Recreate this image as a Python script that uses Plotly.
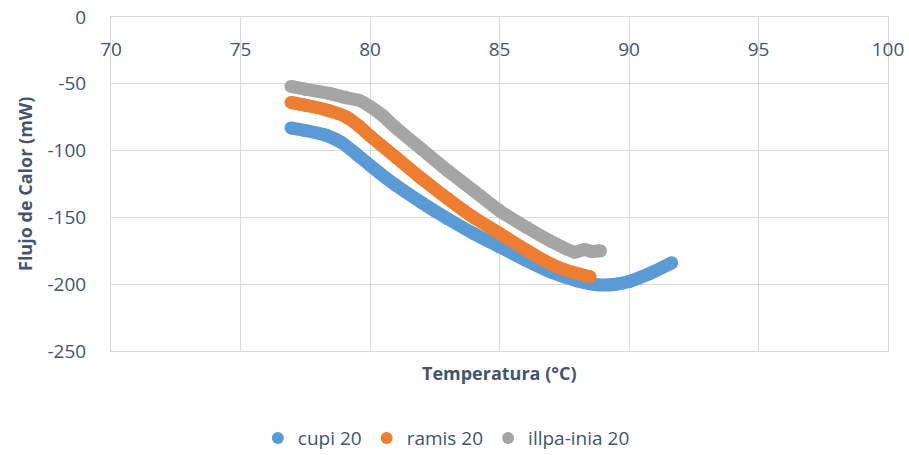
import plotly.graph_objects as go

# ---- data ----
cupi_x = [76.95, 77.5, 78.3, 78.9, 79.5, 80.0, 81.0, 82.0, 83.0, 84.0, 85.0, 86.0, 87.0, 88.0, 88.8, 89.5, 90.0, 90.8, 91.65]
cupi_y = [-83, -85, -88.5, -94, -103, -111, -126, -139, -151, -162, -172, -182, -191, -197.5, -200.5, -200, -198, -192, -184]

ramis_x = [76.95, 77.5, 78.4, 79.1, 79.6, 80.0, 81.0, 82.0, 83.0, 84.0, 85.0, 86.0, 86.7, 87.5, 88.5]
ramis_y = [-64, -66, -70, -75, -82, -89, -105, -121, -136, -150, -162, -174, -182, -189, -194.5]

illpa_x = [76.95, 77.5, 78.5, 79.1, 79.6, 80.0, 80.5, 81.0, 82.0, 83.0, 84.0, 85.0, 86.0, 87.0, 87.9, 88.3, 88.55, 88.9]
illpa_y = [-52, -54, -57.5, -60.5, -62.5, -67, -74, -83, -99, -115, -130, -145, -157, -168, -176, -174, -175.5, -175]

series_names = ["cupi 20", "ramis 20", "illpa-inia 20"]
series_colors = ["#5b9bd5", "#ed7d31", "#a5a5a5"]

x_ticks = [70, 75, 80, 85, 90, 95, 100]
x_ticktext = ["70", "75", "80", "85", "90", "95", "100"]
y_ticks = [0, -50, -100, -150, -200, -250]
y_ticktext = ["0", "-50", "-100", "-150", "-200", "-250"]

x_title = "Temperatura (°C)"
y_title = "Flujo de Calor (mW)"

FONT = "Open Sans"
TXT = "#44546a"
GRID = "#d9d9d9"

fig = go.Figure()
series = [(cupi_x, cupi_y), (ramis_x, ramis_y), (illpa_x, illpa_y)]
for (xs, ys), name, col in zip(series, series_names, series_colors):
    fig.add_trace(go.Scatter(
        x=xs, y=ys, mode="lines+markers", name=name, showlegend=False,
        line=dict(color=col, width=13, shape="spline", smoothing=0.5),
        marker=dict(color=col, size=13),
        hoverinfo="skip",
    ))
for name, col in zip(series_names, series_colors):
    fig.add_trace(go.Scatter(
        x=[None], y=[None], mode="markers", name=name, showlegend=True,
        marker=dict(color=col, size=12), xaxis="x2",
    ))

fig.update_layout(
    width=909, height=455,
    margin=dict(l=111, r=21, t=17, b=104),
    paper_bgcolor="white", plot_bgcolor="white",
    font=dict(family=FONT, size=19, color=TXT),
    legend=dict(orientation="h", xref="container", yref="container",
                x=0.491, xanchor="center", y=0.037, yanchor="middle",
                font=dict(family=FONT, size=19, color=TXT),
                itemwidth=30, tracegroupgap=0),
    xaxis=dict(
        range=[70, 100], tickvals=x_ticks, side="top", showticklabels=False,
        ticks="", showgrid=True, gridcolor=GRID, gridwidth=1, mirror=True,
        showline=True, linecolor=GRID, linewidth=1, zeroline=False, automargin=False,
    ),
    xaxis2=dict(
        range=[70, 100], tickvals=x_ticks, ticktext=x_ticktext,
        overlaying="x", anchor="free", position=1, side="bottom",
        ticks="", ticklabelstandoff=19, showgrid=False, showline=False, zeroline=False,
        automargin=False, tickfont=dict(family=FONT, size=19, color=TXT),
    ),
    yaxis=dict(
        range=[-250, 0], tickvals=y_ticks, ticktext=y_ticktext,
        ticks="", ticklabelstandoff=20, showgrid=True, gridcolor=GRID, gridwidth=1, mirror=True,
        showline=True, linecolor=GRID, linewidth=1, zeroline=False, automargin=False,
        tickfont=dict(family=FONT, size=19, color=TXT),
    ),
)
fig.add_annotation(text="<b>" + x_title + "</b>", xref="paper", yref="paper",
                   x=0.5, y=-0.065, xanchor="center", yanchor="middle", showarrow=False,
                   font=dict(family=FONT, size=18, color=TXT))
fig.add_annotation(text="<b>" + y_title + "</b>", xref="paper", yref="paper",
                   x=-86 / 777, y=0.5, xanchor="center", yanchor="middle",
                   textangle=-90, showarrow=False,
                   font=dict(family=FONT, size=18, color=TXT))

fig.write_html("out.html", config={"displayModeBar": False},
               post_script="document.body.style.margin='0';")
